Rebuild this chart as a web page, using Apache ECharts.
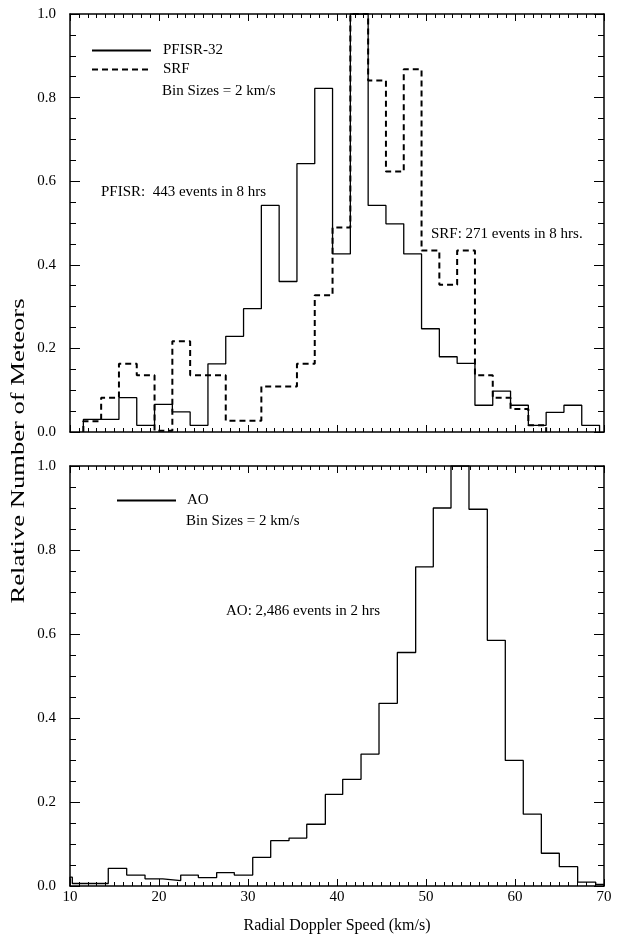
<!DOCTYPE html>
<html>
<head>
<meta charset="utf-8">
<script src="https://cdn.jsdelivr.net/npm/echarts@6/dist/echarts.min.js"></script>
<style>
  html, body { margin: 0; padding: 0; background: #fff; }
  #chart { width: 620px; height: 941px; }
</style>
</head>
<body>
<div id="chart"></div>
<script>
  // top panel: PFISR-32 (solid) and SRF (dashed), bin edges in km/s
  var pfisrEdges = [11.5, 13.5, 15.5, 17.5, 19.5, 21.5, 23.5, 25.5, 27.5, 29.5,
                    31.5, 33.5, 35.5, 37.5, 39.5, 41.5, 43.5, 45.5, 47.5, 49.5,
                    51.5, 53.5, 55.5, 57.5, 59.5, 61.5, 63.5, 65.5, 67.5, 69.5];
  var pfisrValues = [0.030, 0.030, 0.082, 0.016, 0.066, 0.048, 0.016, 0.163, 0.229, 0.295,
                     0.542, 0.360, 0.642, 0.822, 0.426, 1.000, 0.542, 0.498, 0.426, 0.247,
                     0.180, 0.164, 0.064, 0.098, 0.064, 0.016, 0.047, 0.064, 0.016];

  var srfEdges = [11.5, 13.5, 15.5, 17.5, 19.5, 21.5, 23.5, 25.5, 27.5, 29.5,
                  31.5, 33.5, 35.5, 37.5, 39.5, 41.5, 43.5, 45.5, 47.5, 49.5,
                  51.5, 53.5, 55.5, 57.5, 59.5, 61.5, 63.5];
  var srfValues = [0.026, 0.082, 0.163, 0.136, 0.003, 0.217, 0.136, 0.136, 0.027, 0.027,
                   0.109, 0.109, 0.163, 0.327, 0.489, 1.000, 0.841, 0.623, 0.868, 0.434,
                   0.352, 0.434, 0.136, 0.082, 0.055, 0.016];

  // bottom panel: AO
  var aoEdges = [10, 10.26, 12.28, 14.30, 16.37, 18.43, 20.42, 22.44, 24.42, 26.48,
                 28.46, 30.53, 32.55, 34.61, 36.60, 38.69, 40.64, 42.70, 44.72, 46.78,
                 48.84, 50.82, 52.81, 54.83, 56.89, 58.91, 60.93, 62.96, 64.98, 67.04,
                 69.07, 70];
  var aoValues = [0.021, 0.006, 0.006, 0.042, 0.026, 0.017, 0.013, 0.026, 0.020, 0.032,
                  0.026, 0.068, 0.108, 0.114, 0.147, 0.218, 0.254, 0.314, 0.435, 0.556,
                  0.760, 0.900, 1.000, 0.897, 0.585, 0.299, 0.171, 0.078, 0.046, 0.009,
                  0.004];

  var xTicks = { min: 10, max: 70, interval: 10 };
  var yTicks = { min: 0, max: 1, interval: 0.2 };

  var FONT = '"Liberation Serif", "DejaVu Serif", serif';

  // histogram outline: left edge of each bin + closing edge
  function stepData(edges, values) {
    var pts = [[edges[0], 0]];
    for (var i = 0; i < values.length; i++) {
      pts.push([edges[i], values[i]]);
    }
    pts.push([edges[values.length], values[values.length - 1]]);
    pts.push([edges[values.length], 0]);
    return pts;
  }

  function xAxisCfg(gridIndex, position, showLabels) {
    return {
      type: 'value', gridIndex: gridIndex, position: position,
      min: xTicks.min, max: xTicks.max, interval: xTicks.interval,
      axisLine: { show: true, onZero: false, lineStyle: { color: '#000', width: 1.5 } },
      axisTick: { show: true, inside: true, length: 7, lineStyle: { color: '#000', width: 1 } },
      minorTick: { show: true, splitNumber: 10, length: 4, lineStyle: { color: '#000', width: 1 } },
      axisLabel: { show: showLabels, color: '#000', fontFamily: FONT, fontSize: 15, margin: 4 },
      splitLine: { show: false }
    };
  }

  function yAxisCfg(gridIndex, position, showLabels) {
    return {
      type: 'value', gridIndex: gridIndex, position: position,
      min: yTicks.min, max: yTicks.max, interval: yTicks.interval,
      axisLine: { show: true, onZero: false, lineStyle: { color: '#000', width: 1.5 } },
      axisTick: { show: true, inside: true, length: 10, lineStyle: { color: '#000', width: 1 } },
      minorTick: { show: true, splitNumber: 4, length: 6, lineStyle: { color: '#000', width: 1 } },
      axisLabel: {
        show: showLabels, color: '#000', fontFamily: FONT, fontSize: 15, margin: 14,
        formatter: function (v) { return v.toFixed(1); }
      },
      splitLine: { show: false }
    };
  }

  var chart = echarts.init(document.getElementById('chart'), null, { renderer: 'canvas' });

  var bottomX = xAxisCfg(1, 'bottom', true);
  bottomX.name = 'Radial Doppler Speed (km/s)';
  bottomX.nameLocation = 'middle';
  bottomX.nameGap = 32;
  bottomX.nameTextStyle = { color: '#000', fontFamily: FONT, fontSize: 16 };

  var option = {
    animation: false,
    backgroundColor: '#fff',
    grid: [
      { left: 70, top: 14, width: 534, height: 418 },
      { left: 70, top: 466, width: 534, height: 420 }
    ],
    xAxis: [
      xAxisCfg(0, 'bottom', false),
      xAxisCfg(0, 'top', false),
      bottomX,
      xAxisCfg(1, 'top', false)
    ],
    yAxis: [
      yAxisCfg(0, 'left', true),
      yAxisCfg(0, 'right', false),
      yAxisCfg(1, 'left', true),
      yAxisCfg(1, 'right', false)
    ],
    legend: [
      {
        data: ['PFISR-32', 'SRF'], orient: 'vertical', left: 91, top: 43,
        itemWidth: 59, itemHeight: 14, itemGap: 4, padding: 0,
        itemStyle: { opacity: 0 },
        textStyle: { color: '#000', fontFamily: FONT, fontSize: 15, padding: [0, 0, 0, 7] }
      },
      {
        data: ['AO'], orient: 'vertical', left: 116, top: 493,
        itemWidth: 59, itemHeight: 14, padding: 0,
        itemStyle: { opacity: 0 },
        textStyle: { color: '#000', fontFamily: FONT, fontSize: 15, padding: [0, 0, 0, 6] }
      }
    ],
    graphic: [
      { type: 'text', left: 162, top: 84, style: { text: 'Bin Sizes = 2 km/s', fill: '#000', font: '15px ' + FONT } },
      { type: 'text', left: 101, top: 185, style: { text: 'PFISR:  443 events in 8 hrs', fill: '#000', font: '15px ' + FONT } },
      { type: 'text', left: 431, top: 227, style: { text: 'SRF: 271 events in 8 hrs.', fill: '#000', font: '15px ' + FONT } },
      { type: 'text', left: 186, top: 514, style: { text: 'Bin Sizes = 2 km/s', fill: '#000', font: '15px ' + FONT } },
      { type: 'text', left: 226, top: 604, style: { text: 'AO: 2,486 events in 2 hrs', fill: '#000', font: '15px ' + FONT } },
      {
        // y title is stretched along its length in the original
        type: 'text', x: 19, y: 451, rotation: Math.PI / 2, scaleX: 1.4,
        style: { text: 'Relative Number of Meteors', fill: '#000', font: '19px ' + FONT, align: 'center', verticalAlign: 'middle' }
      }
    ],
    series: [
      {
        name: 'PFISR-32', type: 'line', xAxisIndex: 0, yAxisIndex: 0, step: 'end',
        symbol: 'none', data: stepData(pfisrEdges, pfisrValues),
        lineStyle: { color: '#000', width: 1.3 }, itemStyle: { color: '#000' }
      },
      {
        name: 'SRF', type: 'line', xAxisIndex: 0, yAxisIndex: 0, step: 'end',
        symbol: 'none', data: stepData(srfEdges, srfValues),
        lineStyle: { color: '#000', width: 2, type: [6, 4] }, itemStyle: { color: '#000' }
      },
      {
        name: 'AO', type: 'line', xAxisIndex: 2, yAxisIndex: 2, step: 'end',
        symbol: 'none', data: stepData(aoEdges, aoValues),
        lineStyle: { color: '#000', width: 1.3 }, itemStyle: { color: '#000' }
      }
    ]
  };

  chart.setOption(option);
</script>
</body>
</html>
